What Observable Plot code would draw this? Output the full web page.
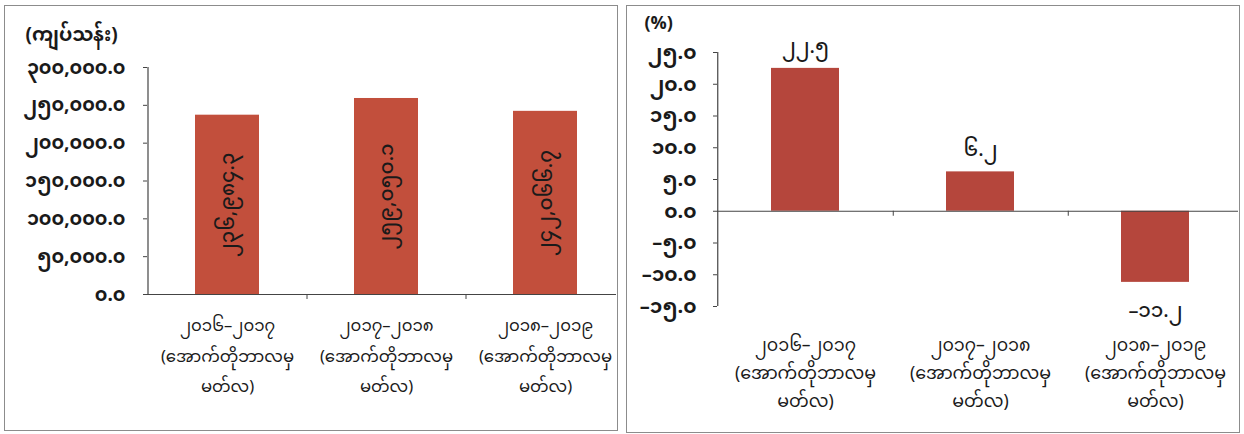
<!DOCTYPE html>
<html><head><meta charset="utf-8">
<script src="https://cdn.jsdelivr.net/npm/d3@7"></script>
<script src="https://cdn.jsdelivr.net/npm/@observablehq/plot@0.6"></script>
<style>
body{margin:0;background:#fff;width:1244px;height:434px;overflow:hidden;position:relative;font-family:"Noto Sans Myanmar","Padauk","Myanmar Text","Noto Sans",sans-serif}
.panel{position:absolute;border:1.5px solid #8c8c8c;background:#fff;overflow:hidden;box-sizing:border-box}
#left{left:4px;top:5px;width:614px;height:426px}
#right{left:626px;top:5px;width:614px;height:428px}
svg{display:block}
</style></head><body>
<div class="panel" id="left"></div><div class="panel" id="right"></div>
<script>
// ---- data ----
const periods = ["၂၀၁၆–၂၀၁၇", "၂၀၁၇–၂၀၁၈", "၂၀၁၈–၂၀၁၉"];
const periodNote = "(အောက်တိုဘာလမှ\nမတ်လ)";
const amounts = [236984.3, 259050.1, 242066.7];      // ကျပ်သန်း
const growth = [22.5, 6.2, -11.2];                    // %
const amountTicks = [0, 50000, 100000, 150000, 200000, 250000, 300000];
const growthTicks = [-15, -10, -5, 0, 5, 10, 15, 20, 25];
const amountUnit = "(ကျပ်သန်း)";
const growthUnit = "(%)";

const mm = "၀၁၂၃၄၅၆၇၈၉";
const toMM = s => String(s).replace(/[0-9]/g, d => mm[d]);
const fmtAmt = v => toMM(d3.format(",.1f")(v));
const fmtPct = v => toMM(d3.format(".1f")(v)).replace("−", "–").replace("-", "–");

const font = `"Noto Sans Myanmar","Padauk","Myanmar Text","Noto Sans",sans-serif`;
const barL = "#c24f3c", barR = "#b5463c", ink = "#1a1a1a";

// ---- left chart ----
{
  const W = 611, H = 423, mL = 142, mT = 61, mB = 135;
  const step = 159;
  const data = periods.map((p, i) => ({period: p, value: amounts[i]}));
  const chart = Plot.plot({
    width: W, height: H, marginLeft: mL, marginTop: mT, marginBottom: mB, marginRight: 0,
    style: {fontFamily: font, color: ink, background: "white"},
    x: {domain: periods, range: [mL, mL + 3 * step], paddingInner: 0.6, paddingOuter: 0.3, axis: null},
    y: {domain: [0, 300000], axis: null},
    marks: [
      Plot.barY(data, {x: "period", y: "value", fill: barL}),
      Plot.ruleY([0], {stroke: "#444", strokeWidth: 1.2}),
      Plot.ruleX([periods[0]], {dx: -step / 2, y1: 0, y2: 300000, stroke: "#444", strokeWidth: 1.2}),
      Plot.ruleX(periods.slice(0, 2), {dx: step / 2, y1: 0, y2: 0, insetBottom: -5, stroke: "#444"}),
      Plot.axisY(amountTicks, {tickSize: 4, tickPadding: 18, tickFormat: fmtAmt, fontSize: 19, fontWeight: "bold", stroke: "#444", label: null}),
      Plot.axisX({tickSize: 0, tickPadding: 15, fontSize: 16.5, lineHeight: 1.85, label: null,
        tickFormat: d => d + "\n" + periodNote}),
      Plot.text(data, {x: "period", y: d => d.value / 2, text: d => fmtAmt(d.value), rotate: -90, fontSize: 20, fontWeight: 500, fill: ink}),
      Plot.text([amountUnit], {frameAnchor: "top-left", dx: 20 - mL, dy: -40, textAnchor: "start", fontSize: 19, fontWeight: "bold", fill: ink})
    ]
  });
  document.getElementById("left").append(chart);
}

// ---- right chart ----
{
  const W = 611, H = 425, mL = 90, mT = 46, mB = 125;
  const step = 175.5;
  const data = periods.map((p, i) => ({period: p, value: growth[i]}));
  const chart = Plot.plot({
    width: W, height: H, marginLeft: mL, marginTop: mT, marginBottom: mB, marginRight: 0,
    style: {fontFamily: font, color: ink, background: "white"},
    x: {domain: periods, range: [mL, mL + 3 * step], paddingInner: 0.61, paddingOuter: 0.305, axis: null},
    y: {domain: [-15, 25], axis: null},
    marks: [
      Plot.barY(data, {x: "period", y: "value", fill: barR}),
      Plot.ruleY([0], {stroke: "#444", strokeWidth: 1.2}),
      Plot.ruleX([periods[0]], {dx: -step / 2, y1: -15, y2: 25, stroke: "#444", strokeWidth: 1.2}),
      Plot.ruleX(periods.slice(0, 2), {dx: step / 2, y1: 0, y2: 0, insetBottom: -5, stroke: "#444"}),
      Plot.axisY(growthTicks, {tickSize: 4, tickPadding: 17, tickFormat: fmtPct, fontSize: 20, fontWeight: "bold", stroke: "#444", label: null}),
      Plot.axisX({tickSize: 0, tickPadding: 25, fontSize: 17.5, lineHeight: 1.6, label: null,
        tickFormat: d => d + "\n" + periodNote}),
      Plot.text(data.filter(d => d.value >= 0), {x: "period", y: "value", dy: -22, text: d => fmtPct(d.value), fontSize: 20, fontWeight: 500, fill: ink}),
      Plot.text(data.filter(d => d.value < 0), {x: "period", y: "value", dy: 28, text: d => fmtPct(d.value), fontSize: 20, fontWeight: 500, fill: ink}),
      Plot.text([growthUnit], {frameAnchor: "top-left", dx: 17 - mL, dy: -36, textAnchor: "start", fontSize: 18, fontWeight: "bold", fill: ink})
    ]
  });
  document.getElementById("right").append(chart);
}
</script>
</body></html>
